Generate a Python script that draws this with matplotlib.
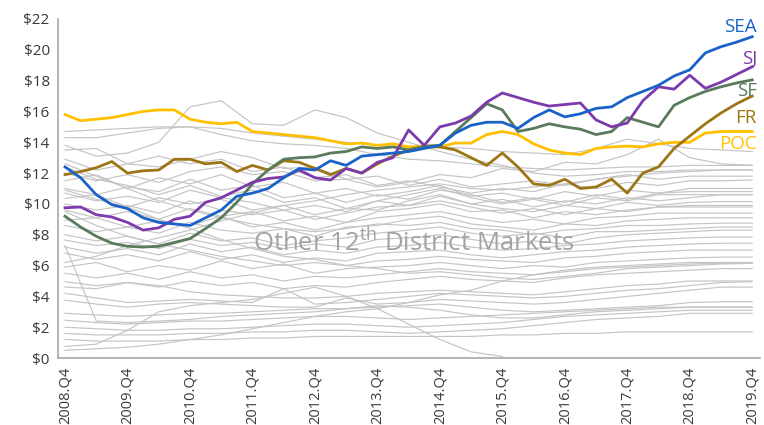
import numpy as np
import matplotlib
matplotlib.use("Agg")
import matplotlib.pyplot as plt

plt.rcParams['font.family'] = ['Open Sans', 'DejaVu Sans']
plt.rcParams['mathtext.fontset'] = 'custom'
plt.rcParams['mathtext.rm'] = 'Open Sans'

# quarterly index: 0 = 2008.Q4 ... 44 = 2019.Q4
tick_labels = ["2008.Q4", "2009.Q4", "2010.Q4", "2011.Q4", "2012.Q4", "2013.Q4",
               "2014.Q4", "2015.Q4", "2016.Q4", "2017.Q4", "2018.Q4", "2019.Q4"]

sea = [12.4, 11.7, 10.6, 9.95, 9.7, 9.1, 8.8, 8.7, 8.6, 9.1, 9.6, 10.5, 10.7, 11.0, 11.7,
       12.3, 12.2, 12.8, 12.5, 13.1, 13.2, 13.3, 13.4, 13.6, 13.8, 14.6, 15.1, 15.3, 15.3,
       14.9, 15.6, 16.1, 15.65, 15.85, 16.2, 16.3, 16.9, 17.3, 17.7, 18.3, 18.7, 19.8, 20.2,
       20.5, 20.85]
sj = [9.75, 9.8, 9.3, 9.15, 8.8, 8.3, 8.45, 9.0, 9.2, 10.1, 10.4, 10.9, 11.4, 11.65, 11.75,
      12.2, 11.7, 11.55, 12.3, 12.0, 12.7, 13.0, 14.8, 13.8, 15.0, 15.25, 15.7, 16.6, 17.2,
      16.9, 16.6, 16.35, 16.45, 16.55, 15.45, 15.0, 15.25, 16.7, 17.6, 17.45, 18.35, 17.5,
      17.9, 18.4, 18.9]
sf = [9.2, 8.5, 7.9, 7.45, 7.25, 7.2, 7.25, 7.5, 7.75, 8.4, 9.1, 10.1, 11.3, 12.2, 12.9,
      13.0, 13.05, 13.3, 13.4, 13.7, 13.6, 13.7, 13.5, 13.75, 13.8, 14.7, 15.6, 16.5, 16.1,
      14.7, 14.9, 15.2, 15.0, 14.85, 14.5, 14.7, 15.6, 15.3, 15.0, 16.4, 16.9, 17.3, 17.6,
      17.85, 18.05]
fr = [11.9, 12.1, 12.35, 12.75, 12.0, 12.15, 12.2, 12.9, 12.9, 12.6, 12.7, 12.1, 12.5, 12.2,
      12.8, 12.7, 12.3, 11.9, 12.3, 12.0, 12.6, 13.1, 13.5, 13.7, 13.7, 13.5, 13.0, 12.5,
      13.3, 12.4, 11.3, 11.2, 11.6, 11.0, 11.1, 11.6, 10.7, 12.0, 12.4, 13.6, 14.4, 15.2,
      15.9, 16.5, 17.0]
poc = [15.8, 15.4, 15.5, 15.6, 15.8, 16.0, 16.1, 16.1, 15.5, 15.3, 15.2, 15.3, 14.7, 14.6,
       14.5, 14.4, 14.3, 14.1, 13.9, 13.95, 13.8, 13.9, 13.7, 13.75, 13.7, 13.95, 13.95, 14.5,
       14.7, 14.5, 13.9, 13.5, 13.3, 13.2, 13.6, 13.7, 13.75, 13.7, 13.9, 14.0, 14.0, 14.6,
       14.7, 14.7, 14.7]

# other markets, read every second quarter (Q4, Q2, Q4 ...)
others = [
    [14.7, 14.8, 14.9, 15.0, 15.0, 14.9, 14.6, 14.4, 14.2, 14.0, 13.8, 13.6, 13.7, 13.6, 13.4, 13.3, 13.2, 13.6, 14.2, 13.9, 13.6, 13.5, 13.4],
    [14.3, 14.3, 14.6, 14.9, 15.0, 14.5, 14.1, 13.9, 13.8, 13.6, 13.2, 12.9, 12.8, 12.6, 12.4, 12.3, 12.2, 12.3, 12.4, 12.4, 12.5, 12.5, 12.5],
    [13.8, 13.1, 13.3, 14.0, 16.3, 16.7, 15.2, 15.1, 16.1, 15.6, 14.6, 14.0, 13.4, 12.9, 12.5, 12.0, 11.8, 11.9, 12.1, 12.1, 12.2, 12.2, 12.2],
    [13.5, 13.6, 12.6, 12.4, 12.9, 13.4, 13.0, 12.3, 12.4, 11.6, 11.8, 11.2, 11.6, 11.1, 11.3, 11.5, 11.2, 11.6, 11.9, 11.6, 11.8, 11.8, 11.8],
    [12.9, 12.2, 12.6, 13.1, 12.6, 12.9, 12.1, 12.4, 11.7, 11.9, 11.2, 11.5, 11.1, 10.7, 11.0, 10.8, 11.3, 11.0, 11.4, 11.2, 11.5, 11.5, 11.55],
    [12.0, 11.5, 11.9, 11.4, 12.1, 12.4, 11.9, 12.1, 11.5, 11.6, 11.1, 11.4, 11.9, 11.7, 12.3, 12.1, 12.7, 12.6, 13.2, 14.2, 13.0, 12.6, 12.5],
    [11.5, 11.9, 11.0, 11.7, 11.3, 11.9, 11.1, 11.4, 10.7, 11.0, 10.5, 10.8, 11.2, 10.5, 10.7, 10.3, 10.8, 10.5, 10.9, 10.7, 11.0, 11.0, 11.0],
    [12.4, 11.6, 11.2, 10.6, 11.2, 10.5, 10.9, 10.1, 10.4, 9.7, 10.2, 9.9, 10.5, 10.0, 10.3, 9.8, 10.2, 10.0, 10.4, 10.2, 10.4, 10.6, 10.6],
    [11.0, 10.6, 11.1, 10.8, 11.6, 10.9, 11.2, 10.4, 10.7, 10.1, 10.6, 10.3, 10.9, 10.6, 10.1, 10.4, 10.1, 10.6, 10.3, 10.7, 10.8, 10.8, 10.8],
    [10.7, 10.2, 10.5, 10.1, 10.9, 10.4, 10.1, 9.6, 9.9, 9.5, 10.2, 10.6, 11.0, 10.4, 10.0, 10.3, 9.9, 10.4, 10.2, 10.6, 10.6, 10.6, 10.6],
    [10.35, 10.6, 9.8, 10.4, 10.0, 10.3, 9.6, 9.9, 9.3, 9.7, 9.6, 10.2, 10.6, 10.0, 9.7, 9.5, 9.9, 9.7, 10.1, 9.9, 10.1, 10.15, 10.15],
    [10.0, 9.6, 9.9, 9.4, 10.2, 9.6, 9.3, 9.6, 9.0, 9.4, 9.8, 9.9, 10.2, 9.8, 9.4, 9.7, 9.3, 9.7, 9.5, 9.8, 9.9, 9.9, 9.9],
    [9.6, 9.1, 9.5, 9.0, 9.7, 9.2, 9.5, 8.9, 9.2, 8.8, 9.5, 9.7, 10.0, 9.5, 9.6, 9.1, 9.5, 9.3, 9.6, 9.8, 9.8, 9.8, 9.8],
    [8.95, 9.1, 8.5, 8.9, 8.6, 9.2, 8.5, 8.8, 8.3, 8.8, 9.1, 9.3, 9.5, 9.1, 8.8, 9.0, 8.7, 9.1, 9.2, 9.4, 9.4, 9.4, 9.4],
    [8.6, 8.2, 8.5, 8.1, 8.8, 8.3, 8.1, 8.4, 7.9, 8.5, 8.6, 9.0, 9.2, 8.7, 8.5, 8.3, 8.7, 8.6, 8.9, 9.0, 9.1, 9.1, 9.1],
    [12.6, 11.8, 11.0, 10.2, 9.6, 9.1, 8.7, 8.4, 8.2, 8.4, 8.7, 8.6, 8.8, 8.4, 8.3, 8.0, 8.3, 8.4, 8.6, 8.6, 8.7, 8.75, 8.75],
    [8.0, 7.6, 7.9, 7.4, 8.1, 7.6, 7.8, 7.3, 7.6, 7.8, 8.1, 8.3, 8.5, 8.1, 7.9, 8.1, 7.8, 8.2, 8.2, 8.3, 8.4, 8.5, 8.5],
    [7.65, 7.3, 7.5, 7.1, 7.7, 7.3, 7.5, 7.1, 7.4, 7.2, 7.7, 7.8, 8.0, 7.7, 7.4, 7.6, 7.4, 7.8, 8.0, 8.1, 8.2, 8.3, 8.3],
    [7.2, 6.8, 7.1, 6.7, 7.4, 6.9, 7.2, 6.7, 7.0, 6.8, 7.2, 7.3, 7.5, 7.2, 7.0, 7.1, 7.3, 7.4, 7.6, 7.7, 7.8, 7.85, 7.85],
    [6.8, 6.4, 6.7, 6.3, 6.9, 6.4, 6.7, 6.2, 6.5, 6.3, 6.8, 6.9, 7.0, 6.7, 6.5, 6.7, 6.9, 7.0, 7.2, 7.3, 7.4, 7.45, 7.45],
    [9.5, 8.6, 7.9, 7.4, 7.0, 6.6, 6.3, 6.0, 6.2, 6.0, 6.3, 6.4, 6.6, 6.4, 6.3, 6.2, 6.5, 6.6, 6.8, 6.9, 7.0, 7.0, 7.0],
    [5.9, 6.2, 5.6, 6.0, 5.7, 6.3, 5.8, 6.1, 5.5, 5.8, 5.9, 6.0, 6.2, 6.0, 5.8, 6.0, 5.9, 6.2, 6.3, 6.4, 6.5, 6.55, 6.55],
    [5.5, 5.2, 5.5, 5.1, 5.6, 5.2, 5.4, 5.0, 5.3, 5.2, 5.4, 5.6, 5.8, 5.6, 5.5, 5.4, 5.6, 5.8, 5.9, 6.0, 6.1, 6.15, 6.15],
    [4.95, 4.7, 4.9, 4.6, 5.0, 4.7, 4.9, 4.5, 4.7, 4.6, 4.9, 5.1, 5.3, 5.1, 5.0, 4.9, 5.2, 5.4, 5.5, 5.6, 5.7, 5.8, 5.8],
    [4.6, 4.5, 4.9, 4.7, 4.3, 4.1, 4.0, 3.9, 3.9, 4.0, 4.2, 4.3, 4.4, 4.3, 4.2, 4.1, 4.3, 4.5, 4.7, 4.8, 5.0, 5.0, 5.0],
    [4.2, 3.9, 3.6, 3.7, 3.8, 3.7, 3.6, 4.5, 3.5, 3.6, 3.8, 4.0, 4.2, 4.1, 4.0, 3.9, 4.0, 4.2, 4.4, 4.5, 4.7, 4.9, 4.95],
    [3.75, 3.5, 3.3, 3.5, 3.6, 3.5, 3.4, 3.3, 3.3, 3.9, 3.5, 3.6, 3.8, 3.7, 3.6, 3.5, 3.6, 3.8, 4.0, 4.2, 4.4, 4.6, 4.6],
    [2.9, 2.8, 2.7, 2.8, 2.9, 2.9, 3.0, 3.1, 3.2, 3.2, 3.3, 3.4, 3.5, 3.3, 3.1, 3.0, 3.1, 3.2, 3.3, 3.4, 3.6, 3.65, 3.65],
    [7.3, 2.4, 2.3, 2.4, 2.5, 2.7, 2.8, 2.9, 3.0, 3.2, 3.4, 3.3, 3.1, 2.8, 2.6, 2.6, 2.8, 3.0, 3.1, 3.2, 3.3, 3.3, 3.3],
    [2.45, 2.3, 2.2, 2.3, 2.4, 2.4, 2.5, 2.6, 2.7, 2.7, 2.6, 2.5, 2.6, 2.7, 2.8, 2.9, 3.0, 3.1, 3.2, 3.3, 3.3, 3.3, 3.3],
    [2.0, 1.9, 1.8, 1.8, 1.9, 1.9, 2.0, 2.1, 2.2, 2.2, 2.1, 2.0, 2.1, 2.2, 2.3, 2.5, 2.7, 2.8, 2.9, 3.0, 3.1, 3.1, 3.1],
    [1.6, 1.5, 1.5, 1.5, 1.6, 1.6, 1.7, 1.7, 1.8, 1.8, 1.7, 1.6, 1.7, 1.8, 1.9, 2.1, 2.3, 2.5, 2.6, 2.7, 2.9, 2.9, 2.9],
    [1.2, 1.1, 1.1, 1.1, 1.2, 1.2, 1.3, 1.3, 1.4, 1.4, 1.4, 1.4, 1.4, 1.4, 1.5, 1.5, 1.6, 1.6, 1.7, 1.7, 1.7, 1.7, 1.7],
    [0.75, 0.9, 1.8, 3.0, 3.4, 3.6, 3.8, 4.2, 4.6, 4.0, 3.2, 2.2, 1.2, 0.4, 0.1, None, None, None, None, None, None, None, None],
    [0.5, 0.6, 0.7, 0.9, 1.2, 1.5, 1.9, 2.3, 2.7, 3.0, 3.2, 3.6, 4.1, 4.4, 5.0, 5.4, 5.7, 5.9, 6.0, 6.1, 6.2, 6.2, 6.2],
    [6.2, 6.6, 7.3, 7.8, 8.3, 8.9, 9.4, 9.9, 10.2, 10.6, 10.9, 11.1, 11.3, 11.0, 10.9, 11.1, 11.3, 11.6, 11.8, 12.0, 12.1, 12.2, 12.2],
    [10.9, 10.3, 9.8, 9.0, 8.4, 7.7, 7.1, 6.6, 6.4, 6.0, 5.8, 5.5, 5.6, 5.4, 5.2, 5.1, 5.3, 5.5, 5.8, 5.9, 6.0, 6.1, 6.15],
]

x_q = np.arange(len(sea))
x_o = np.arange(0, len(sea), 2)

fig = plt.figure(figsize=(7.64, 4.25), dpi=100)
ax = fig.add_axes([0.0759, 0.1576, 0.9189, 0.7977])

for s in others:
    ax.plot(x_o, np.array(s, dtype=float), color="#c4c4c4", lw=0.85, zorder=1)

ax.text(22.3, 7.5, "Other 12$^{\\rm th}$ District Markets", color="#a3a3a3",
        fontsize=18.5, ha="center", va="center", zorder=2)

series = [("POC", poc, "#ffc000"), ("FR", fr, "#9c7514"), ("SF", sf, "#5a7a5c"),
          ("SJ", sj, "#7d3aad"), ("SEA", sea, "#1a62c9")]
for name, vals, col in series:
    ax.plot(x_q, vals, color=col, lw=2.0, zorder=3)

label_pos = {"SEA": 21.5, "SJ": 19.4, "SF": 17.3, "FR": 15.6, "POC": 13.9}
for name, vals, col in series:
    ax.text(44.3, label_pos[name], name, color=col, fontsize=13.5, ha="right", va="center")

ax.set_xlim(-0.45, 44.5)
ax.set_ylim(0, 22)
ax.set_yticks(range(0, 23, 2))
ax.set_yticklabels(["$%d" % v for v in range(0, 23, 2)], fontsize=11, color="#3a3a3a")
ax.set_xticks(range(0, 45, 4))
ax.set_xticklabels(tick_labels, rotation=90, fontsize=10.5, color="#3a3a3a")
ax.tick_params(length=0, pad=6)

for side in ["top", "right"]:
    ax.spines[side].set_visible(False)
for side in ["left", "bottom"]:
    ax.spines[side].set_color("#a8a8a8")
    ax.spines[side].set_linewidth(1.2)

fig.savefig("out.png", dpi=100)
